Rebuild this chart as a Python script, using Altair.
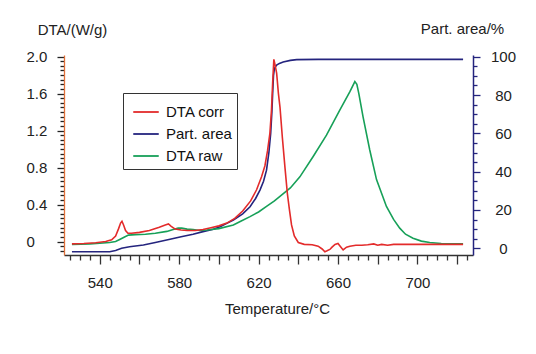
import altair as alt
import pandas as pd

# ---------------- data ----------------
corr_T = [526, 532, 538, 543, 546, 548, 549.5, 550.5, 551.2, 552, 553, 554.2, 556, 560, 565,
          570, 573, 574.6, 576, 578, 581, 584, 588, 592, 596, 600, 604, 608, 612, 616, 619,
          621.5, 623.2, 624.5, 625.7, 626.5, 627.1, 627.7, 628.4, 629.1, 630, 630.8, 632, 633.3,
          634.5, 635.5, 636.6, 638, 640, 643, 647, 650, 652, 653.4, 654.5, 655.9, 657, 658.5,
          660, 661.5, 662.6, 664.3, 666, 669, 672, 675, 678, 680, 682, 685, 688, 692, 700, 710, 723]
corr_V = [-0.025, -0.02, -0.012, 0.0, 0.02, 0.06, 0.14, 0.2, 0.22, 0.18, 0.12, 0.09, 0.09, 0.1, 0.12,
          0.155, 0.18, 0.19, 0.165, 0.135, 0.125, 0.12, 0.12, 0.13, 0.15, 0.17, 0.2, 0.25, 0.33, 0.44, 0.56,
          0.7, 0.82, 0.98, 1.17, 1.42, 1.72, 1.97, 1.9, 1.82, 1.6, 1.45, 1.12, 0.8,
          0.52, 0.35, 0.18, 0.06, -0.01, -0.03, -0.035, -0.05, -0.08, -0.11, -0.1, -0.085, -0.06, -0.03,
          -0.02, -0.06, -0.09, -0.06, -0.05, -0.04, -0.04, -0.035, -0.025, -0.04, -0.03, -0.04, -0.03, -0.03, -0.03, -0.03, -0.03]

raw_T = [526, 535, 545, 548, 550.3, 552.5, 554.5, 558, 563, 568, 573.8, 577, 579.5, 581.3, 584, 587,
         590.5, 594, 600, 607.3, 611, 615.7, 620, 624, 628, 632, 636, 640.8, 647.5, 654.2, 660.9, 666,
         668.5, 669.5, 670.5, 672.6, 676, 679.4, 684.4, 688, 691.1, 694, 697.8, 702, 706.2, 712, 723]
raw_V = [-0.03, -0.025, -0.01, 0.0, 0.025, 0.05, 0.07, 0.075, 0.08, 0.09, 0.11, 0.13, 0.145, 0.145, 0.135, 0.13,
         0.12, 0.125, 0.14, 0.18, 0.22, 0.27, 0.32, 0.38, 0.44, 0.51, 0.58, 0.7, 0.92, 1.15, 1.42, 1.62,
         1.73, 1.7, 1.6, 1.35, 0.99, 0.67, 0.38, 0.24, 0.145, 0.08, 0.037, 0.005, -0.01, -0.02, -0.025]

area_T = [526, 535, 545, 548, 551, 555, 562, 568, 575.4, 581, 587, 592, 597.2, 600.6, 604, 607.3, 612,
          615.7, 618.5, 620.7, 622.5, 624, 625.2, 626.1, 626.7, 627.1, 627.5, 628, 629.1, 630.5, 632.4,
          636, 639.2, 650, 680, 723]
area_P = [-1.8, -1.8, -1.8, -1.2, 0.0, 0.8, 1.7, 3.0, 4.7, 6.0, 7.3, 8.7, 9.9, 11.3, 13.0, 14.8, 18.0,
          21.7, 26, 30.4, 35, 40.8, 50, 60, 71, 80.9, 90, 94, 95.6, 96.5, 97.3,
          98.1, 98.5, 98.6, 98.6, 98.6]

SERIES = ["DTA corr", "Part. area", "DTA raw"]
COLORS = ["#e32b2b", "#24247e", "#17a058"]

x_ticks = list(range(525, 730, 5))
left_ticks = [round(-0.1 + 0.05 * i, 2) for i in range(43)]
right_ticks = list(range(0, 105, 5))

FONT = "Liberation Sans"

corr_df = pd.DataFrame({"T": corr_T, "v": corr_V, "s": "DTA corr"})
raw_df = pd.DataFrame({"T": raw_T, "v": raw_V, "s": "DTA raw"})
area_df = pd.DataFrame({"T": area_T, "v": area_P, "s": "Part. area"})

x_enc = alt.X(
    "T:Q",
    scale=alt.Scale(domain=[522, 728], nice=False, zero=False),
    axis=alt.Axis(
        values=x_ticks,
        labelExpr="datum.value % 40 == 20 ? datum.label : ''",
        tickSize={"condition": {"test": "datum.value % 20 == 0", "value": 9}, "value": 5},
        tickColor="#333", domainColor="#333", tickWidth=1.3, domainWidth=1.3,
        grid=False, labelFont=FONT, labelFontSize=15, labelColor="#222",
        labelPadding=11,
        title="Temperature/°C", titleFont=FONT, titleFontSize=15, titleFontWeight="normal",
        titleColor="#222", titleX=213, titleY=53, titleBaseline="middle", titleAlign="center",
    ),
)

color_enc = alt.Color(
    "s:N",
    scale=alt.Scale(domain=SERIES, range=COLORS),
    legend=alt.Legend(
        orient="none", legendX=59, legendY=38, title=None,
        symbolType="stroke", symbolStrokeWidth=1.8, symbolSize=650, symbolOffset=4,
        labelFont=FONT, labelFontSize=15, labelColor="#111",
        labelExpr="datum.label + ' '",
        strokeColor="#333", fillColor="white", padding=5, rowPadding=-8.5, labelOffset=6,
    ),
)

y_left = alt.Y(
    "v:Q",
    scale=alt.Scale(domain=[-0.145, 2.017], nice=False, zero=False),
    axis=alt.Axis(
        orient="left", values=left_ticks,
        labelExpr="abs(datum.value*2.5 - round(datum.value*2.5)) < 0.001 ? (abs(datum.value) < 0.001 ? '0' : format(datum.value, '.1f')) : ''",
        tickSize={"condition": {"test": "abs(datum.value*2.5 - round(datum.value*2.5)) < 0.001", "value": 7},
                  "value": 4},
        tickColor="#222", domainColor="#e0703a", domainWidth=1.3, tickWidth=1.3,
        grid=False, labelFont=FONT, labelFontSize=15, labelColor="#222",
        labelAlign="left", labelPadding=31, labelBaseline="middle",
        title="DTA/(W/g)", titleFont=FONT, titleFontSize=15, titleFontWeight="normal",
        titleColor="#222", titleAngle=0, titleX=8, titleY=-26, titleAlign="center",
        titleBaseline="middle",
    ),
)

y_right = alt.Y(
    "v:Q",
    scale=alt.Scale(domain=[-3.5, 100.9], nice=False, zero=False),
    axis=alt.Axis(
        orient="right", values=right_ticks,
        labelExpr="datum.value % 20 == 0 ? datum.label : ''",
        tickSize={"condition": {"test": "datum.value % 20 == 0", "value": 7}, "value": 4},
        tickColor="#24247e", domainColor="#24247e", domainWidth=1.5, tickWidth=1.3,
        grid=False, labelFont=FONT, labelFontSize=15, labelColor="#222",
        labelAlign="center", labelPadding=23, labelBaseline="middle",
        title="Part. area/%", titleFont=FONT, titleFontSize=15, titleFontWeight="normal",
        titleColor="#222", titleAngle=0, titleX=-11, titleY=-27, titleAlign="center",
        titleBaseline="middle",
    ),
)

line = dict(strokeWidth=1.6, clip=True)

area_layer = alt.Chart(area_df).mark_line(**line).encode(x=x_enc, y=y_right, color=color_enc)
raw_layer = alt.Chart(raw_df).mark_line(**line).encode(x=x_enc, y=y_left, color=color_enc)
corr_layer = alt.Chart(corr_df).mark_line(**line).encode(x=x_enc, y=y_left, color=color_enc)

left = alt.layer(raw_layer, corr_layer)

chart = (
    alt.layer(area_layer, left)
    .resolve_scale(y="independent")
    .properties(
        width=409, height=200,
        autosize=alt.AutoSizeParams(type="none"),
        padding={"left": 64, "top": 55, "right": 63, "bottom": 99},
        background="white",
    )
    .configure_view(stroke=None)
)

chart.save("out.html", embed_options={"renderer": "svg", "actions": False})
